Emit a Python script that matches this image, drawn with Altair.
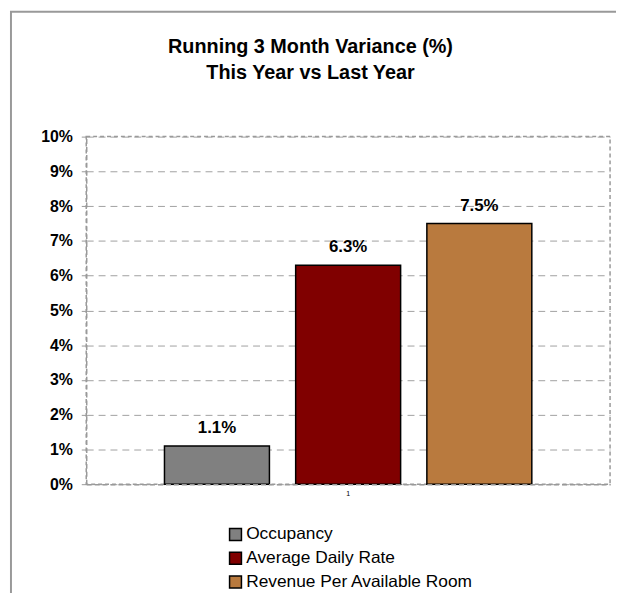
import altair as alt
import pandas as pd

# Data
series = ["Occupancy", "Average Daily Rate", "Revenue Per Available Room"]
values = [0.011, 0.063, 0.075]
category = ["1", "1", "1"]
colors = ["#808080", "#800000", "#B97A3E"]
y_ticks = [0.0, 0.01, 0.02, 0.03, 0.04, 0.05, 0.06, 0.07, 0.08, 0.09, 0.10]

df = pd.DataFrame({"cat": category, "series": series, "value": values})

FONT = "Liberation Sans"

x_enc = alt.X(
    "cat:N",
    title=None,
    scale=alt.Scale(paddingInner=0, paddingOuter=0.213),
    axis=alt.Axis(
        labelAngle=0,
        labelFontSize=7,
        labelColor="black",
        labelPadding=5,
        ticks=False,
        domainColor="#999999",
        domainDash=[5, 3],
        domainWidth=1.5,
        zindex=1,
    ),
)
xo_enc = alt.XOffset(
    "series:N",
    sort=series,
    scale=alt.Scale(paddingInner=0.2, paddingOuter=0),
)
y_enc = alt.Y(
    "value:Q",
    title=None,
    scale=alt.Scale(domain=[0, 0.10], nice=False),
    axis=alt.Axis(
        values=y_ticks,
        format=".0%",
        labelFontSize=16,
        labelFontWeight="bold",
        labelColor="black",
        labelPadding=9,
        tickSize=5,
        tickColor="#999999",
        domainColor="#999999",
        domainDash=[5, 3],
        domainWidth=1.5,
        gridColor="#A0A0A0",
        gridDash=[7, 5],
        gridWidth=1,
    ),
)

bars = alt.Chart(df).mark_bar(stroke="black", strokeWidth=1.5).encode(
    x=x_enc,
    xOffset=xo_enc,
    y=y_enc,
    color=alt.Color(
        "series:N",
        sort=series,
        scale=alt.Scale(domain=series, range=colors),
        legend=alt.Legend(
            title=None,
            orient="none",
            legendX=142,
            legendY=393,
            symbolType="square",
            symbolSize=144,
            symbolStrokeColor="black",
            symbolStrokeWidth=1.5,
            labelFontSize=17.5,
            labelColor="black",
            labelOffset=2,
            labelLimit=400,
            rowPadding=5,
            padding=0,
        ),
    ),
)

labels = alt.Chart(df).mark_text(
    fontSize=17, fontWeight="bold", color="black", baseline="alphabetic", dy=-13
).encode(
    x=x_enc,
    xOffset=xo_enc,
    y=y_enc,
    text=alt.Text("value:Q", format=".1%"),
)

frame = alt.Chart(pd.DataFrame({"a": [0]})).mark_rect(
    fill=None, stroke="#999999", strokeWidth=2
).encode(
    x=alt.value(-76), x2=alt.value(545), y=alt.value(-126), y2=alt.value(470)
)

chart = alt.layer(frame, bars, labels).properties(
    width=529,
    height=351,
    autosize=alt.AutoSizeParams(type="none"),
    padding={"left": 79, "top": 127, "right": 6, "bottom": 107},
    title=alt.TitleParams(
        text=["Running 3 Month Variance (%)", "This Year vs Last Year"],
        fontSize=20,
        fontWeight="bold",
        color="black",
        anchor="middle",
        frame="group",
        dx=-38,
        offset=-89,
        baseline="alphabetic",
        lineHeight=26,
    ),
).configure(
    font=FONT,
).configure_view(
    stroke="#999999",
    strokeDash=[4, 3],
    strokeWidth=1.5,
)

chart.save("out.html", embed_options={"renderer": "svg", "actions": False})
